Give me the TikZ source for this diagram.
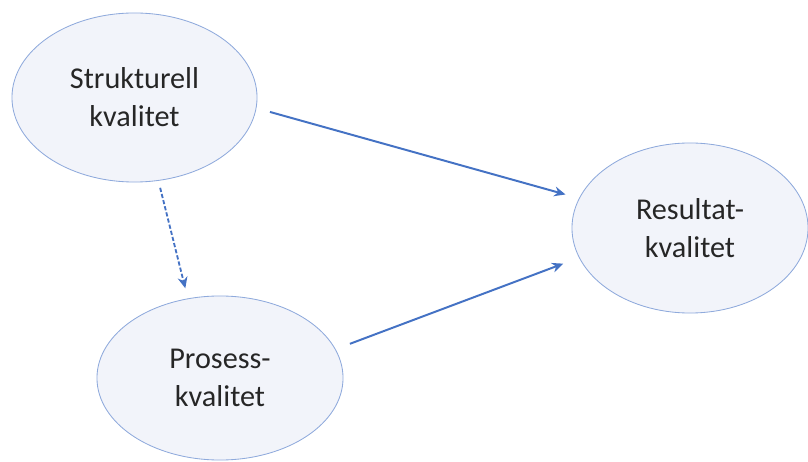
\documentclass[tikz,border=0pt]{standalone}
\usepackage{fontspec}
\setmainfont{Carlito}
\usetikzlibrary{positioning,arrows.meta,shapes.geometric}
\definecolor{ovalfill}{RGB}{242,244,250}
\definecolor{ovaldraw}{RGB}{143,170,220}
\definecolor{arrowblue}{RGB}{68,114,196}

\begin{document}
\begin{tikzpicture}[
  x=0.025cm, y=0.025cm,
  every node/.style={font=\fontsize{21.5}{27}\selectfont},
  oval/.style={ellipse, draw=ovaldraw, fill=ovalfill, line width=0.6pt, inner sep=0pt, align=center, text=black!85},
  arr/.style={-{Stealth[length=8pt,width=7pt]}, draw=arrowblue, line width=1.4pt},
  dasharr/.style={arr, line width=1.3pt, dash pattern=on 3pt off 1.5pt}
]
\useasboundingbox (0,0) rectangle (808,461);

\node[oval, minimum width=6.125cm, minimum height=4.225cm] (struct) at (134.5,363.5) {Strukturell\\kvalitet};

\node[oval, minimum width=5.9cm, minimum height=4.25cm] (result) at (690,233) {Resultat-\\kvalitet};

\node[oval, minimum width=6.15cm, minimum height=4.1cm] (process) at (220,83) {Prosess-\\kvalitet};

\draw[arr, shorten <=0.35cm, shorten >=0.35cm] (struct.-5.3) -- (result.165.6);
\draw[arr, shorten <=0.38cm, shorten >=0.42cm] (process.14.2) -- (result.195);
\draw[dasharr, shorten <=0.18cm, shorten >=0.26cm] (struct.-74.1) -- (process.112);

\end{tikzpicture}
\end{document}
